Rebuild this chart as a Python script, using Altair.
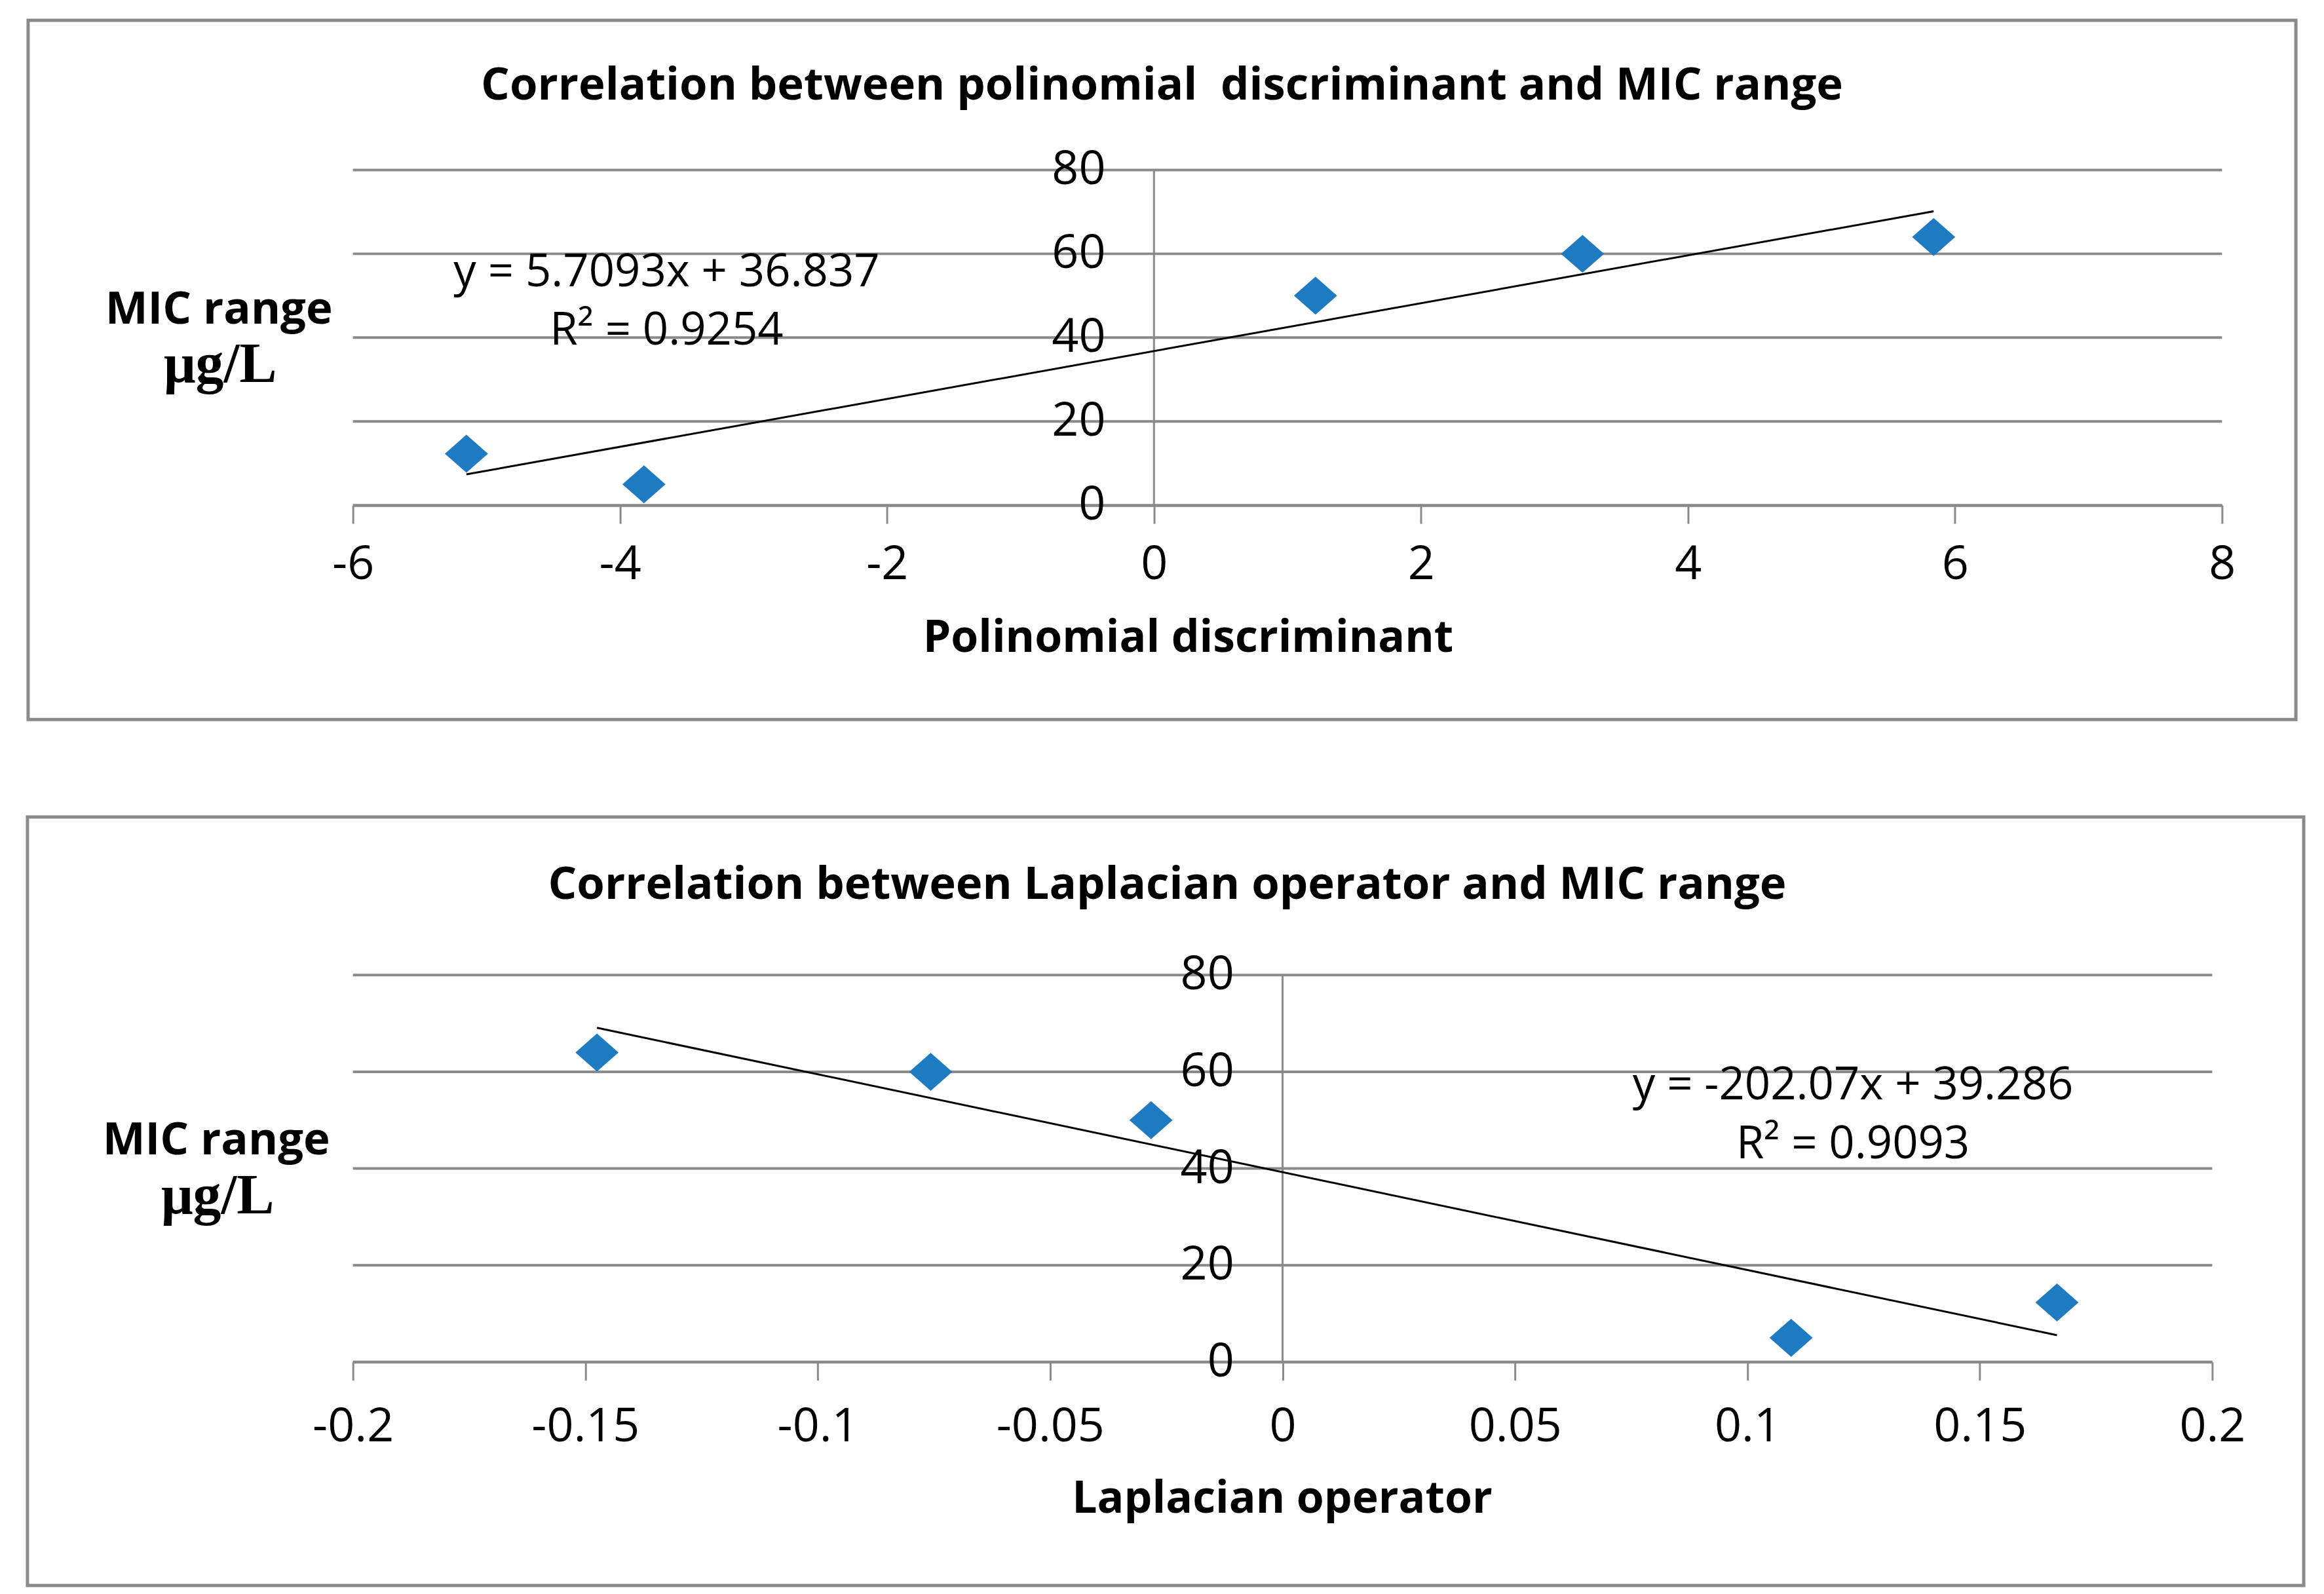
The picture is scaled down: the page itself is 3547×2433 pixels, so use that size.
import altair as alt
import pandas as pd

# ---------------- data ----------------
disc_x = [-5.15, -3.82, 1.21, 3.21, 5.84]
disc_y = [12.3, 5.0, 50.0, 60.0, 64.0]
lap_x = [-0.1475, -0.0757, -0.0283, 0.1094, 0.1666]
lap_y = [64.0, 60.0, 50.0, 5.0, 12.3]
y_ticks = [0, 20, 40, 60, 80]
disc_ticks = [-6, -4, -2, 0, 2, 4, 6, 8]
lap_ticks = [-0.2, -0.15, -0.1, -0.05, 0, 0.05, 0.1, 0.15, 0.2]
eq1_text = ["y = 5.7093x + 36.837", "R² = 0.9254"]
eq1_x = [-3.65, -3.65]
eq1_y = [55.5, 41.6]
eq2_text = ["y = -202.07x + 39.286", "R² = 0.9093"]
eq2_x = [0.1227, 0.1227]
eq2_y = [57.1, 45.0]
title1 = "Correlation between polinomial\u00a0 discriminant and MIC range"
title2 = "Correlation between Laplacian operator and MIC range"
xtitle1 = "Polinomial discriminant"
xtitle2 = "Laplacian operator"
ytitle_a = "MIC range"
ytitle_b = "μg/L"

GRAY = "#8a8a8a"
BLUE = "#1f7bc1"
FONT = "Open Sans"
SERIF = "Liberation Serif"
DIAMOND = "M-1,0L0,-0.88L1,0L0,0.88Z"


def panel(xs, ys, xticks, W, H, title, title_pos, xtitle, xtitle_pos,
          ytitle_pos, box, eq_x, eq_y, eq_text, lab_pad):
    xscale = alt.Scale(domain=[xticks[0], xticks[-1]], nice=False, zero=False)
    yscale = alt.Scale(domain=[0, 80], nice=False)
    xaxis = alt.Axis(values=xticks, title=None, grid=False, domainColor=GRAY,
                     domainWidth=4, tickColor=GRAY, tickWidth=3, tickSize=28,
                     labelFont=FONT, labelFontSize=72, labelColor="black",
                     labelPadding=lab_pad, labelExpr="'' + datum.value",
                     labelFlush=False, labelOverlap=False)

    def X():
        return alt.X("x:Q", scale=xscale, axis=xaxis)

    def Y():
        return alt.Y("y:Q", scale=yscale, axis=None)

    one = pd.DataFrame({"k": [0]})
    pts = pd.DataFrame({"x": xs, "y": ys})

    border = alt.Chart(one).mark_rect(fillOpacity=0, stroke=GRAY, strokeWidth=5).encode(
        x=alt.value(box[0]), x2=alt.value(box[1]), y=alt.value(box[2]), y2=alt.value(box[3]))

    gdf = pd.DataFrame({"y": y_ticks})
    grid = alt.Chart(gdf).mark_rule(color=GRAY, strokeWidth=4).encode(
        y=Y(), x=alt.value(0), x2=alt.value(W))

    zero = alt.Chart(pd.DataFrame({"x": [0]})).mark_rule(color=GRAY, strokeWidth=3).encode(
        x=X(), y=alt.value(0), y2=alt.value(H))

    ylab_df = pd.DataFrame({"x": [0] * len(y_ticks), "y": y_ticks,
                            "t": [str(v) for v in y_ticks]})
    ylabels = alt.Chart(ylab_df).mark_text(font=FONT, fontSize=72, align="right",
                                           baseline="middle", dx=-74, color="black").encode(
        x=X(), y=Y(), text="t:N")

    trend = alt.Chart(pts).transform_regression("x", "y", method="linear").mark_line(
        color="black", strokeWidth=3).encode(x=X(), y=Y())

    points = alt.Chart(pts).mark_point(shape=DIAMOND, filled=True, size=4356,
                                       color=BLUE, opacity=1).encode(x=X(), y=Y())

    eq_df = pd.DataFrame({"x": eq_x, "y": eq_y, "t": eq_text})
    eq = alt.Chart(eq_df).mark_text(font=FONT, fontSize=69, color="black",
                                    align="center", baseline="middle").encode(
        x=X(), y=Y(), text="t:N")

    def label(txt, pos, font, size, weight):
        return alt.Chart(one).mark_text(text=txt, font=font, fontSize=size, fontWeight=weight,
                                        color="black", align="center", baseline="middle").encode(
            x=alt.value(pos[0]), y=alt.value(pos[1]))

    t = label(title, title_pos, FONT, 69, "bold")
    xt = label(xtitle, xtitle_pos, FONT, 68, "bold")
    ya = label(ytitle_a, (ytitle_pos[0], ytitle_pos[1]), FONT, 69, "bold")
    yb = label(ytitle_b, (ytitle_pos[0] + 2, ytitle_pos[2]), SERIF, 86, "bold")

    return alt.layer(border, grid, zero, ylabels, trend, points, eq, t, xt, ya, yb).properties(
        width=W, height=H)


top = panel(disc_x, disc_y, disc_ticks, 2860, 513, title1, (1238, -129),
            xtitle1, (1278, 717), (-205, 214, 298), (-497, 2973, -229, 841),
            eq1_x, eq1_y, eq1_text, 28)

bottom = panel(lap_x, lap_y, lap_ticks, 2845, 592, title2, (1246, -138),
               xtitle2, (1422, 803), (-209, 253, 339), (-498, 2985, -242, 934),
               eq2_x, eq2_y, eq2_text, 36)

chart = alt.vconcat(top, bottom, spacing=143).properties(
    padding={"left": 31, "top": 17, "right": 20, "bottom": 10},
    background="white",
).configure_view(stroke=None)

chart.save("out.html", embed_options={"renderer": "svg", "actions": False})
